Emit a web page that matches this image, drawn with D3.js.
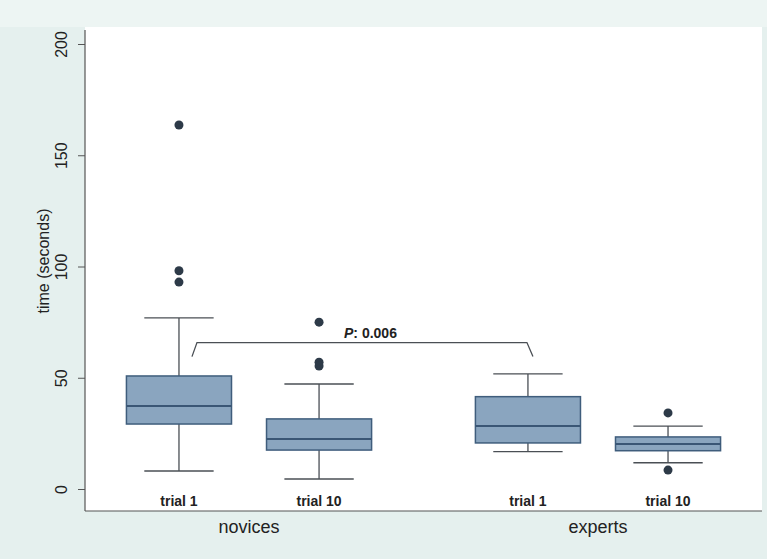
<!DOCTYPE html>
<html><head><meta charset="utf-8">
<script src="https://cdn.jsdelivr.net/npm/d3@7/dist/d3.min.js"></script>
<style>body{margin:0;background:#e5f0ee;} svg{display:block;font-family:"Liberation Sans",Arial,sans-serif;}</style>
</head><body><svg id="c" width="767" height="559"></svg>
<script>
const groups = ["novices", "experts"];
const trials = ["trial 1", "trial 10"];
// box statistics per group, per trial (seconds)
const lowerWhisker = [[8.1, 4.5], [16.8, 11.8]];
const q1 = [[29.2, 17.5], [20.7, 17.2]];
const median = [[37.3, 22.5], [28.3, 20.2]];
const q3 = [[50.8, 31.5], [41.5, 23.4]];
const upperWhisker = [[76.9, 47.2], [51.7, 28.3]];
const outliers = [[[163.6, 98.1, 93.0], [75.0, 57.0, 55.3]], [[], [34.2, 8.5]]];
const yTicks = [0, 50, 100, 150, 200];
const pLabel = "0.006";
const bracketLevel = 65.8;

const svg = d3.select("#c");
const W = 767, H = 559;
const L = 85, R = 762, T = 27, B = 511;

svg.append("rect").attr("width", W).attr("height", H).attr("fill", "#e5f0ee");
svg.append("rect").attr("width", W).attr("height", T).attr("fill", "#edf5f3");
svg.append("rect").attr("x", L).attr("y", T).attr("width", R - L).attr("height", B - T).attr("fill", "#ffffff");

const y = d3.scaleLinear().domain([0, 200]).range([489, 44]);
const xg = d3.scaleBand().domain(groups).range([L, R]).paddingInner(0.1).paddingOuter(0.02);
const xt = d3.scaleBand().domain(trials).range([0, xg.bandwidth()]).paddingInner(0.25).paddingOuter(0.246);

// axes
const yAxis = svg.append("g").attr("transform", `translate(${L},0)`)
  .call(d3.axisLeft(y).tickValues(yTicks).tickSize(7).tickPadding(4));
yAxis.select(".domain").remove();
yAxis.selectAll(".tick line").attr("stroke", "#555");
yAxis.selectAll(".tick text").attr("font-size", 16).attr("fill", "#222")
  .attr("text-anchor", "middle").attr("x", 0).attr("dy", 0)
  .attr("transform", "translate(-18,0) rotate(-90)");
svg.append("line").attr("x1", L).attr("x2", L).attr("y1", 30).attr("y2", B).attr("stroke", "#555").attr("stroke-width", 1.2);
svg.append("line").attr("x1", L).attr("x2", R).attr("y1", B).attr("y2", B).attr("stroke", "#555").attr("stroke-width", 1.2);

svg.append("text").attr("transform", `translate(49,261) rotate(-90)`).attr("text-anchor", "middle")
  .attr("font-size", 16).attr("fill", "#222").text("time (seconds)");

const boxW = xt.bandwidth();
const capW = boxW * 0.66;

groups.forEach((g, gi) => {
  svg.append("text").attr("x", xg(g) + xg.bandwidth() / 2).attr("y", 533).attr("text-anchor", "middle")
    .attr("font-size", 18).attr("fill", "#222").text(g);
  trials.forEach((t, ti) => {
    const cx = xg(g) + xt(t) + boxW / 2;
    const gg = svg.append("g");
    // whiskers
    gg.append("line").attr("x1", cx).attr("x2", cx).attr("y1", y(upperWhisker[gi][ti])).attr("y2", y(q3[gi][ti]))
      .attr("stroke", "#4a4f55").attr("stroke-width", 1.3);
    gg.append("line").attr("x1", cx).attr("x2", cx).attr("y1", y(q1[gi][ti])).attr("y2", y(lowerWhisker[gi][ti]))
      .attr("stroke", "#4a4f55").attr("stroke-width", 1.3);
    [upperWhisker[gi][ti], lowerWhisker[gi][ti]].forEach(v => {
      gg.append("line").attr("x1", cx - capW / 2).attr("x2", cx + capW / 2).attr("y1", y(v)).attr("y2", y(v))
        .attr("stroke", "#4a4f55").attr("stroke-width", 1.3);
    });
    gg.append("rect").attr("x", cx - boxW / 2).attr("width", boxW)
      .attr("y", y(q3[gi][ti])).attr("height", y(q1[gi][ti]) - y(q3[gi][ti]))
      .attr("fill", "#8aa5bf").attr("stroke", "#3f5d7c").attr("stroke-width", 1.5);
    gg.append("line").attr("x1", cx - boxW / 2).attr("x2", cx + boxW / 2)
      .attr("y1", y(median[gi][ti])).attr("y2", y(median[gi][ti]))
      .attr("stroke", "#3a5675").attr("stroke-width", 2);
    outliers[gi][ti].forEach(v => {
      gg.append("circle").attr("cx", cx).attr("cy", y(v)).attr("r", 4.5).attr("fill", "#2d3a48");
    });
    svg.append("text").attr("x", cx).attr("y", 506).attr("text-anchor", "middle")
      .attr("font-size", 14).attr("font-weight", "bold").attr("fill", "#222").text(t);
  });
});

// significance bracket between trial 1 novices and trial 1 experts
const xa = xg("novices") + xt("trial 1") + boxW / 2;
const xb = xg("experts") + xt("trial 1") + boxW / 2;
const yb = y(bracketLevel);
svg.append("path")
  .attr("d", `M${xa + 13},${yb + 14} L${xa + 18},${yb} L${xb - 1},${yb} L${xb + 5},${yb + 14}`)
  .attr("fill", "none").attr("stroke", "#4a4f55").attr("stroke-width", 1.3);
const pt = svg.append("text").attr("x", (xa + xb) / 2 + 17).attr("y", yb - 5).attr("text-anchor", "middle")
  .attr("font-size", 14).attr("font-weight", "bold").attr("fill", "#222");
pt.append("tspan").attr("font-style", "italic").text("P");
pt.append("tspan").text(": " + pLabel);
</script></body></html>
